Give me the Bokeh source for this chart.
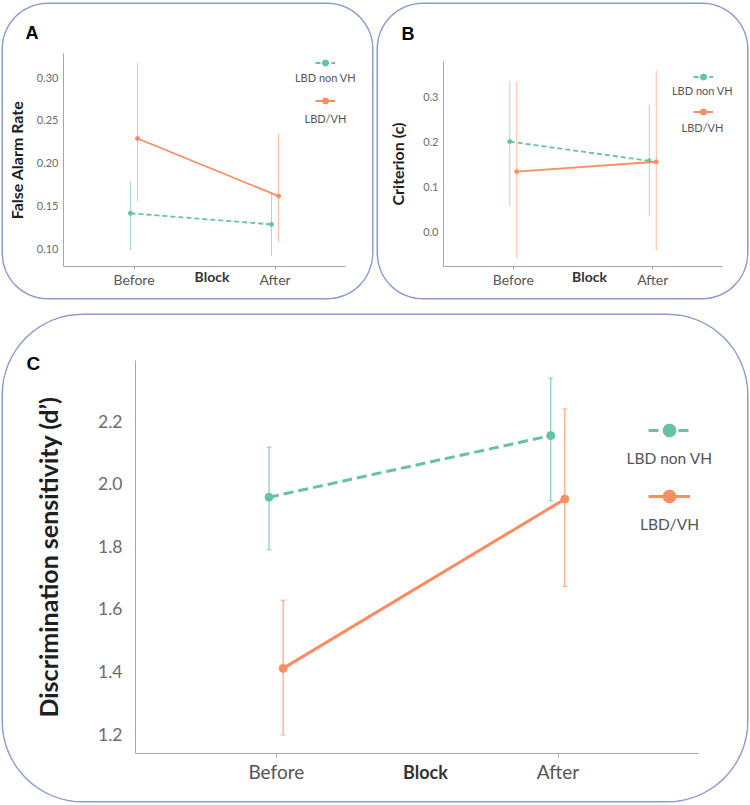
from bokeh.plotting import figure
from bokeh.models import (ColumnDataSource, Range1d, FixedTicker, Label, Legend,
                          LegendItem, TeeHead, Whisker, NumeralTickFormatter)
from bokeh.core.properties import value
from bokeh.transform import dodge
from bokeh.layouts import row, column
from bokeh.embed import file_html
from bokeh.resources import INLINE

# ---------------- data ----------------
BLOCKS = ["Before", "After"]
GROUPS = ["LBD non VH", "LBD/VH"]

# Panel A: False alarm rate
FA_NONVH = [0.142, 0.129]
FA_NONVH_LO = [0.099, 0.092]
FA_NONVH_HI = [0.179, 0.165]
FA_VH = [0.229, 0.162]
FA_VH_LO = [0.156, 0.108]
FA_VH_HI = [0.317, 0.235]
FA_TICKS = [0.10, 0.15, 0.20, 0.25, 0.30]

# Panel B: Criterion (c)
CR_NONVH = [0.201, 0.158]
CR_NONVH_LO = [0.056, 0.034]
CR_NONVH_HI = [0.336, 0.283]
CR_VH = [0.134, 0.156]
CR_VH_LO = [-0.060, -0.041]
CR_VH_HI = [0.334, 0.360]
CR_TICKS = [0.0, 0.1, 0.2, 0.3]

# Panel C: Discrimination sensitivity (d')
DP_NONVH = [1.957, 2.154]
DP_NONVH_LO = [1.789, 1.946]
DP_NONVH_HI = [2.117, 2.338]
DP_VH = [1.410, 1.951]
DP_VH_LO = [1.197, 1.672]
DP_VH_HI = [1.628, 2.239]
DP_TICKS = [1.2, 1.4, 1.6, 1.8, 2.0, 2.2]

COLORS = ["#66c2a5", "#fc8d62"]
FONT = "Lato"
BOX = "#8a9bcf"

XPOS = list(range(len(BLOCKS)))


def make_panel(cfg):
    p = figure(width=cfg["w"], height=cfg["h"],
               x_range=Range1d(-0.5, len(BLOCKS) - 0.5 + cfg["xext"]),
               y_range=Range1d(*cfg["yr"]),
               output_backend="svg", toolbar_location=None,
               min_border_left=cfg["mb"][0], min_border_right=cfg["mb"][1],
               min_border_top=cfg["mb"][2], min_border_bottom=cfg["mb"][3],
               styles={"box-shadow": "0 0 0 1.5px " + BOX,
                       "border-radius": cfg["radius"],
                       "overflow": "hidden"})
    p.outline_line_color = None
    p.grid.visible = False

    # panel letter as the title
    p.title.text = cfg["letter"]
    p.title.align = "left"
    p.title.vertical_align = "bottom"
    p.title.offset = cfg["letter_off"]
    p.title.standoff = cfg["letter_so"]
    p.title.text_font = "Liberation Sans"
    p.title.text_font_style = "bold"
    p.title.text_font_size = cfg["letter_fs"]
    p.title.text_color = "#000000"

    ya = p.yaxis[0]
    ya.ticker = FixedTicker(ticks=cfg["ticks"])
    ya.formatter = NumeralTickFormatter(format=cfg["fmt"])
    ya.axis_line_color = "#a6a6a6"
    ya.major_tick_line_color = None
    ya.major_tick_out = 0
    ya.major_tick_in = 0
    ya.minor_tick_line_color = None
    ya.major_label_text_font = FONT
    ya.major_label_text_font_size = cfg["ytick_fs"]
    ya.major_label_text_color = "#6b6b6b"
    ya.major_label_standoff = cfg["ytick_so"]
    ya.axis_label = cfg["ylabel"]
    ya.axis_label_text_font = FONT
    ya.axis_label_text_font_style = "bold"
    ya.axis_label_text_font_size = cfg["ylab_fs"]
    ya.axis_label_text_color = "#1f1f1f"
    ya.axis_label_standoff = cfg["ylab_so"]

    xa = p.xaxis[0]
    xa.ticker = FixedTicker(ticks=XPOS)
    xa.major_label_overrides = {i: b for i, b in zip(XPOS, BLOCKS)}
    xa.bounds = (-0.5, len(BLOCKS) - 0.5)
    xa.axis_line_color = "#a6a6a6"
    xa.major_tick_line_color = "#a6a6a6"
    xa.major_tick_out = cfg["xtick_out"]
    xa.major_tick_in = 0
    xa.minor_tick_line_color = None
    xa.major_label_text_font = FONT
    xa.major_label_text_font_size = cfg["xtick_fs"]
    xa.major_label_text_color = "#555555"
    xa.major_label_standoff = cfg["xtick_so"]
    xa.axis_label = "Block"
    xa.axis_label_text_font = FONT
    xa.axis_label_text_font_style = "bold"
    xa.axis_label_text_font_size = cfg["xlab_fs"]
    xa.axis_label_text_color = "#333333"
    xa.axis_label_standoff = cfg["xlab_so"]

    for i, grp in enumerate(GROUPS):
        color = COLORS[i]
        src = ColumnDataSource(dict(xi=XPOS, block=BLOCKS, y=cfg["vals"][i],
                                    lo=cfg["lo"][i], hi=cfg["hi"][i]))
        xs = dodge("xi", cfg["offs"][i])
        if cfg["caps"]:
            wk = Whisker(base=xs, upper="hi", lower="lo", source=src, dimension="height",
                         line_color=color, line_width=cfg["ew"], line_alpha=cfg["ea"],
                         upper_head=TeeHead(size=5, line_color=color, line_width=1, line_alpha=cfg["ea"]),
                         lower_head=TeeHead(size=5, line_color=color, line_width=1, line_alpha=cfg["ea"]))
            p.add_layout(wk)
        else:
            p.segment(x0=xs, x1=xs, y0="lo", y1="hi", source=src,
                      line_color=color, line_width=cfg["ew"], line_alpha=cfg["ea"])
        ln = p.line(x=xs, y="y", source=src, line_color=color, line_width=cfg["lw"],
                    line_dash=cfg["dash"][i])
        sc = p.scatter(x=xs, y="y", source=src, size=cfg["ms"], color=color)

        lx, ly = cfg["leg_pos"][i]
        leg = Legend(items=[LegendItem(label=value(" "), renderers=[ln, sc])],
                     location=(lx, ly), glyph_width=cfg["gw"], glyph_height=cfg["gh"],
                     padding=0, margin=0, spacing=0, label_standoff=0,
                     label_text_font_size="1px", label_height=1, label_width=1,
                     border_line_color=None, background_fill_alpha=0)
        p.add_layout(leg)
        tx, ty = cfg["leg_txt"][i]
        p.add_layout(Label(x=tx, y=ty, x_units="screen", y_units="screen", text=grp,
                           text_align="center", text_baseline="middle", text_font=FONT,
                           text_font_size=cfg["leg_fs"], text_color="#555555"))
    return p


common_small = dict(w=369, h=294, radius="45px", ytick_fs="11px", ylab_fs="16px",
                    xtick_fs="14px", xlab_fs="14px", xtick_out=3, xtick_so=1, xlab_so=-23,
                    caps=False, ew=1, ea=0.6, lw=1.8, ms=4, dash=["5 3", "solid"],
                    offs=[-0.025, 0.025], gw=20, gh=15, leg_fs="11px", letter_fs="18px")

# frames: A x 63..360 (page), y 53..266 ; B x 443..735, y 61..266 ; C x 135..715, y 360..753
cfgA = dict(common_small, letter="A", mb=(60, 12, 49, 32), xext=0.106, yr=(0.080, 0.328),
            ticks=FA_TICKS, fmt="0.00", ylabel="False Alarm Rate", ytick_so=5, ylab_so=8,
            vals=[FA_NONVH, FA_VH], lo=[FA_NONVH_LO, FA_VH_LO], hi=[FA_NONVH_HI, FA_VH_HI],
            leg_pos=[(252, 196), (252, 158)], leg_txt=[(262, 189), (262, 148)],
            letter_off=-38, letter_so=22)

cfgB = dict(common_small, letter="B", mb=(65, 12, 57, 32), xext=0.093, yr=(-0.078, 0.380),
            ticks=CR_TICKS, fmt="0.0", ylabel="Criterion (c)", ytick_so=5, ylab_so=13,
            vals=[CR_NONVH, CR_VH], lo=[CR_NONVH_LO, CR_VH_LO], hi=[CR_NONVH_HI, CR_VH_HI],
            leg_pos=[(250, 182), (250, 147)], leg_txt=[(259, 176), (259, 139)],
            letter_off=-42, letter_so=35)

cfgC = dict(letter="C", w=744, h=486, radius="80px", mb=(132, 32, 45, 48), xext=0.059,
            yr=(1.138, 2.394),
            ticks=DP_TICKS, fmt="0.0", ylabel="Discrimination sensitivity (d\u2019)",
            ytick_fs="17.5px", ytick_so=13, ylab_fs="25px", ylab_so=32,
            xtick_fs="19px", xlab_fs="18px", xtick_out=4, xtick_so=2, xlab_so=-25,
            caps=True, ew=1.3, ea=0.75, lw=3, ms=8, dash=["10 5", "solid"],
            offs=[-0.026, 0.024],
            vals=[DP_NONVH, DP_VH], lo=[DP_NONVH_LO, DP_VH_LO], hi=[DP_NONVH_HI, DP_VH_HI],
            gw=42, gh=32, leg_fs="15.5px",
            leg_pos=[(513, 307), (513, 241)], leg_txt=[(534, 296), (534, 230)],
            letter_off=-109, letter_so=-26, letter_fs="19px")

pA = make_panel(cfgA)
pB = make_panel(cfgB)
pC = make_panel(cfgC)

layout = column(row(column(pA), column(pB), spacing=6), pC, spacing=17, margin=(4, 0, 0, 3))

with open("out.html", "w") as f:
    f.write(file_html(layout, INLINE))
